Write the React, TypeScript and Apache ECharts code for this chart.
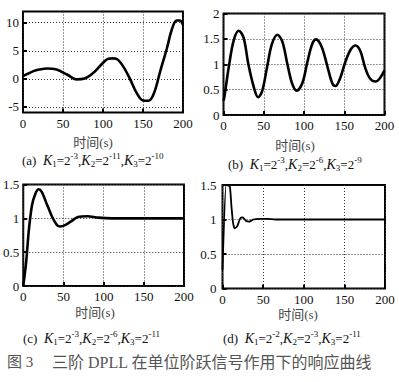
import React, { useEffect, useRef } from "react";
import * as echarts from "echarts";

// ---- data ----
const xTickValues = [0, 50, 100, 150, 200];

const tA = [0, 6, 13, 20, 30, 42, 55, 67, 77, 88, 98, 106, 112, 117, 125, 134, 142, 150, 157, 161, 166, 171, 180, 186, 192, 196, 200];
const vA = [0.5, 0.9, 1.37, 1.65, 1.84, 1.66, 0.77, -0.1, 0.05, 1.07, 2.55, 3.55, 3.65, 3.56, 2.26, -0.1, -2.5, -3.85, -3.9, -3.4, -1.6, 1.07, 5.5, 8.8, 10.4, 10.4, 9.6];
const yTicksA = [-5, 0, 5, 10];

const tB = [0, 1, 7, 13, 19, 25, 31, 38, 43, 48, 54, 60, 67, 73, 79, 85, 91, 98, 104, 110, 115, 122, 129, 135, 139, 145, 151, 158, 164, 170, 176, 182, 189, 194, 200];
const vB = [0.28, 0.35, 0.99, 1.49, 1.66, 1.52, 0.99, 0.53, 0.35, 0.47, 0.93, 1.39, 1.58, 1.45, 1.03, 0.63, 0.48, 0.63, 1.03, 1.39, 1.49, 1.34, 0.96, 0.63, 0.57, 0.73, 1.03, 1.29, 1.37, 1.26, 0.93, 0.72, 0.66, 0.72, 0.88];

const tC = [0, 3.5, 7, 11, 15, 19, 23, 29, 36, 42, 46, 52, 60, 68, 80, 93, 110, 130, 200];
const vC = [0, 0.34, 0.83, 1.2, 1.36, 1.43, 1.39, 1.22, 1.02, 0.9, 0.88, 0.9, 0.96, 1.02, 1.03, 1.01, 1.0, 1.0, 1.0];

const tD = [0, 4.5, 9, 11, 13, 15, 18, 22, 25, 29, 33, 38, 45, 55, 65, 200];
const vD = [0.27, 1.5, 1.48, 1.19, 0.95, 0.87, 0.9, 1.02, 1.03, 0.98, 0.97, 1.0, 1.01, 1.01, 1.0, 1.0];

const panelLabels = ["a", "b", "c", "d"];
const expA = ["-3", "-11", "-10"];
const expB = ["-3", "-6", "-9"];
const expC = ["-3", "-6", "-11"];
const expD = ["-2", "-3", "-11"];
const xAxisTitle = "时间(s)";
const figNo = "图 3";
const figTitle = "三阶 DPLL 在单位阶跃信号作用下的响应曲线";

const SERIF = "Liberation Serif, Noto Sans CJK SC, serif";

function zip(t: number[], v: number[]) {
  return t.map((x, i) => [x, v[i]]);
}

function captionText(label: string, e: string[]) {
  return `(${label})  {i|K}{s|1}=2{p|${e[0]}},{i|K}{s|2}=2{p|${e[1]}},{i|K}{s|3}=2{p|${e[2]}}`;
}

export default function App() {
  const ref = useRef<HTMLDivElement>(null);
  useEffect(() => {
    if (!ref.current) return;
    const chart = echarts.init(ref.current, undefined, { renderer: "svg" });

    const grids = [
      { left: 23, top: 11.5, width: 160, height: 101 },
      { left: 223.5, top: 13.5, width: 161, height: 101.5 },
      { left: 23, top: 184.5, width: 161, height: 101.5 },
      { left: 222.5, top: 185, width: 162.5, height: 103.5 },
    ].map((g) => ({ ...g, show: true, borderColor: "#000", borderWidth: 2, backgroundColor: "transparent" }));

    const gridLine = { show: true, lineStyle: { type: [1, 2] as any, color: "#333", width: 1 } };
    const labelStyle = { fontFamily: SERIF, fontSize: 13, color: "#111" };

    const xAxes = [0, 1, 2, 3].map((i) => ({
      type: "value",
      gridIndex: i,
      min: xTickValues[0],
      max: xTickValues[xTickValues.length - 1],
      interval: 50,
      axisLine: { show: false, onZero: false },
      axisTick: { show: true, inside: true, length: 4, lineStyle: { color: "#000", width: 2 } },
      axisLabel: { ...labelStyle, margin: 4 },
      splitLine: gridLine,
    }));

    const yDefs = [
      { min: -6, max: 12, custom: yTicksA, margin: 4 },
      { min: 0, max: 2, interval: 0.5, margin: 4 },
      { min: 0, max: 1.5, interval: 0.5, margin: 4 },
      { min: 0, max: 1.5, interval: 0.5, margin: 6 },
    ];
    const yAxes = yDefs.map((d, i) => ({
      type: "value",
      gridIndex: i,
      min: d.min,
      max: d.max,
      ...(d.interval ? { interval: d.interval } : {}),
      axisLine: { show: false, onZero: false },
      axisTick: {
        show: true,
        inside: true,
        length: 4,
        lineStyle: { color: "#000", width: 2 },
        ...(d.custom ? { customValues: d.custom } : {}),
      },
      axisLabel: {
        ...labelStyle,
        margin: d.margin,
        ...(d.custom ? { customValues: d.custom } : {}),
      },
      splitLine: gridLine,
    }));

    const datas = [zip(tA, vA), zip(tB, vB), zip(tC, vC), zip(tD, vD)];
    const widths = [2.6, 2.6, 2.6, 1.8];
    const smooths = [0.35, 0.35, 0.3, 0.15];
    const series = datas.map((d, i) => ({
      type: "line",
      xAxisIndex: i,
      yAxisIndex: i,
      data: d,
      showSymbol: false,
      smooth: smooths[i],
      lineStyle: { color: "#000", width: widths[i] },
      clip: true,
    }));

    const capRich = {
      i: { fontStyle: "italic", fontSize: 14, fontFamily: SERIF, lineHeight: 17, color: "#111" },
      s: { fontSize: 9, fontFamily: SERIF, verticalAlign: "bottom", color: "#111" },
      p: { fontSize: 9, fontFamily: SERIF, verticalAlign: "top", color: "#111" },
    };
    const caps = [expA, expB, expC, expD];
    const capPos = [
      [22, 160],
      [228, 164],
      [23, 338],
      [223, 338],
    ];
    const axisTitlePos = [
      [93, 142],
      [295, 145],
      [95, 312],
      [298, 314],
    ];

    const graphic: any[] = [];
    caps.forEach((e, i) => {
      graphic.push({
        type: "text",
        x: capPos[i][0],
        y: capPos[i][1],
        style: {
          text: captionText(panelLabels[i], e),
          rich: capRich,
          fontFamily: SERIF,
          fontSize: 13,
          lineHeight: 17,
          fill: "#111",
          align: "left",
          verticalAlign: "middle",
        },
      });
      graphic.push({
        type: "text",
        x: axisTitlePos[i][0],
        y: axisTitlePos[i][1],
        style: {
          text: xAxisTitle,
          fontFamily: SERIF,
          fontSize: 13,
          fill: "#444",
          align: "center",
          verticalAlign: "middle",
        },
      });
    });
    graphic.push({
      type: "text",
      x: 7,
      y: 362,
      style: { text: figNo, fontFamily: SERIF, fontSize: 15, fill: "#555", align: "left", verticalAlign: "middle" },
    });
    graphic.push({
      type: "text",
      x: 52,
      y: 362,
      style: { text: figTitle, fontFamily: SERIF, fontSize: 16, fill: "#555", align: "left", verticalAlign: "middle" },
    });

    chart.setOption({
      animation: false,
      backgroundColor: "#fff",
      grid: grids,
      xAxis: xAxes,
      yAxis: yAxes,
      series,
      graphic,
    } as any);

    return () => chart.dispose();
  }, []);

  return (
    <div
      ref={ref}
      style={{ position: "fixed", left: 0, top: 0, width: 399, height: 382, background: "#fff" }}
    />
  );
}
